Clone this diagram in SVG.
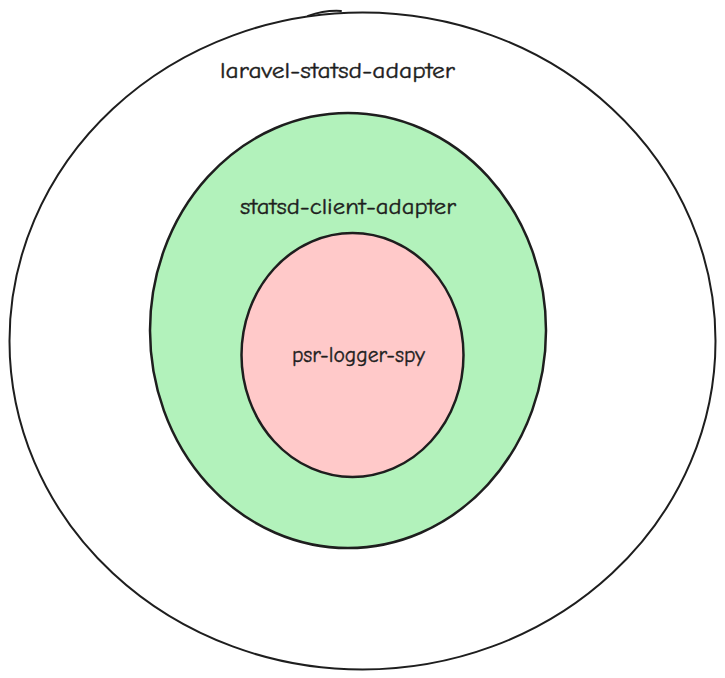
<svg xmlns="http://www.w3.org/2000/svg" width="725" height="678" viewBox="0 0 725 678">
<style>
.shape{stroke:#1e1e1e;stroke-width:2;stroke-linecap:round}
.inner{stroke-width:2.5}
.lbl{font-family:"Comic Neue","Liberation Sans",sans-serif;font-size:23px;fill:#1e1e1e;text-anchor:middle;stroke:#1e1e1e;stroke-width:0.4}
</style>
<rect width="725" height="678" fill="#ffffff"/>
<g id="laravel-statsd-adapter">
<ellipse class="shape" cx="362.5" cy="341" rx="353" ry="328.5" fill="#ffffff"/>
<path class="shape" d="M308 16 Q325 10 341 11" fill="none"/>
<text class="lbl" x="337.5" y="78" textLength="235" lengthAdjust="spacingAndGlyphs">laravel-statsd-adapter</text>
</g>
<g id="statsd-client-adapter">
<ellipse class="shape inner" cx="348" cy="330.5" rx="198" ry="217.5" fill="#b2f2bb"/>
<text class="lbl" x="348" y="214" textLength="216" lengthAdjust="spacingAndGlyphs">statsd-client-adapter</text>
</g>
<g id="psr-logger-spy">
<ellipse class="shape inner" cx="352.5" cy="355" rx="111" ry="122" fill="#ffc9c9"/>
<text class="lbl" x="358.5" y="362" textLength="133" lengthAdjust="spacingAndGlyphs">psr-logger-spy</text>
</g>
<g id="connectors"/>
</svg>
